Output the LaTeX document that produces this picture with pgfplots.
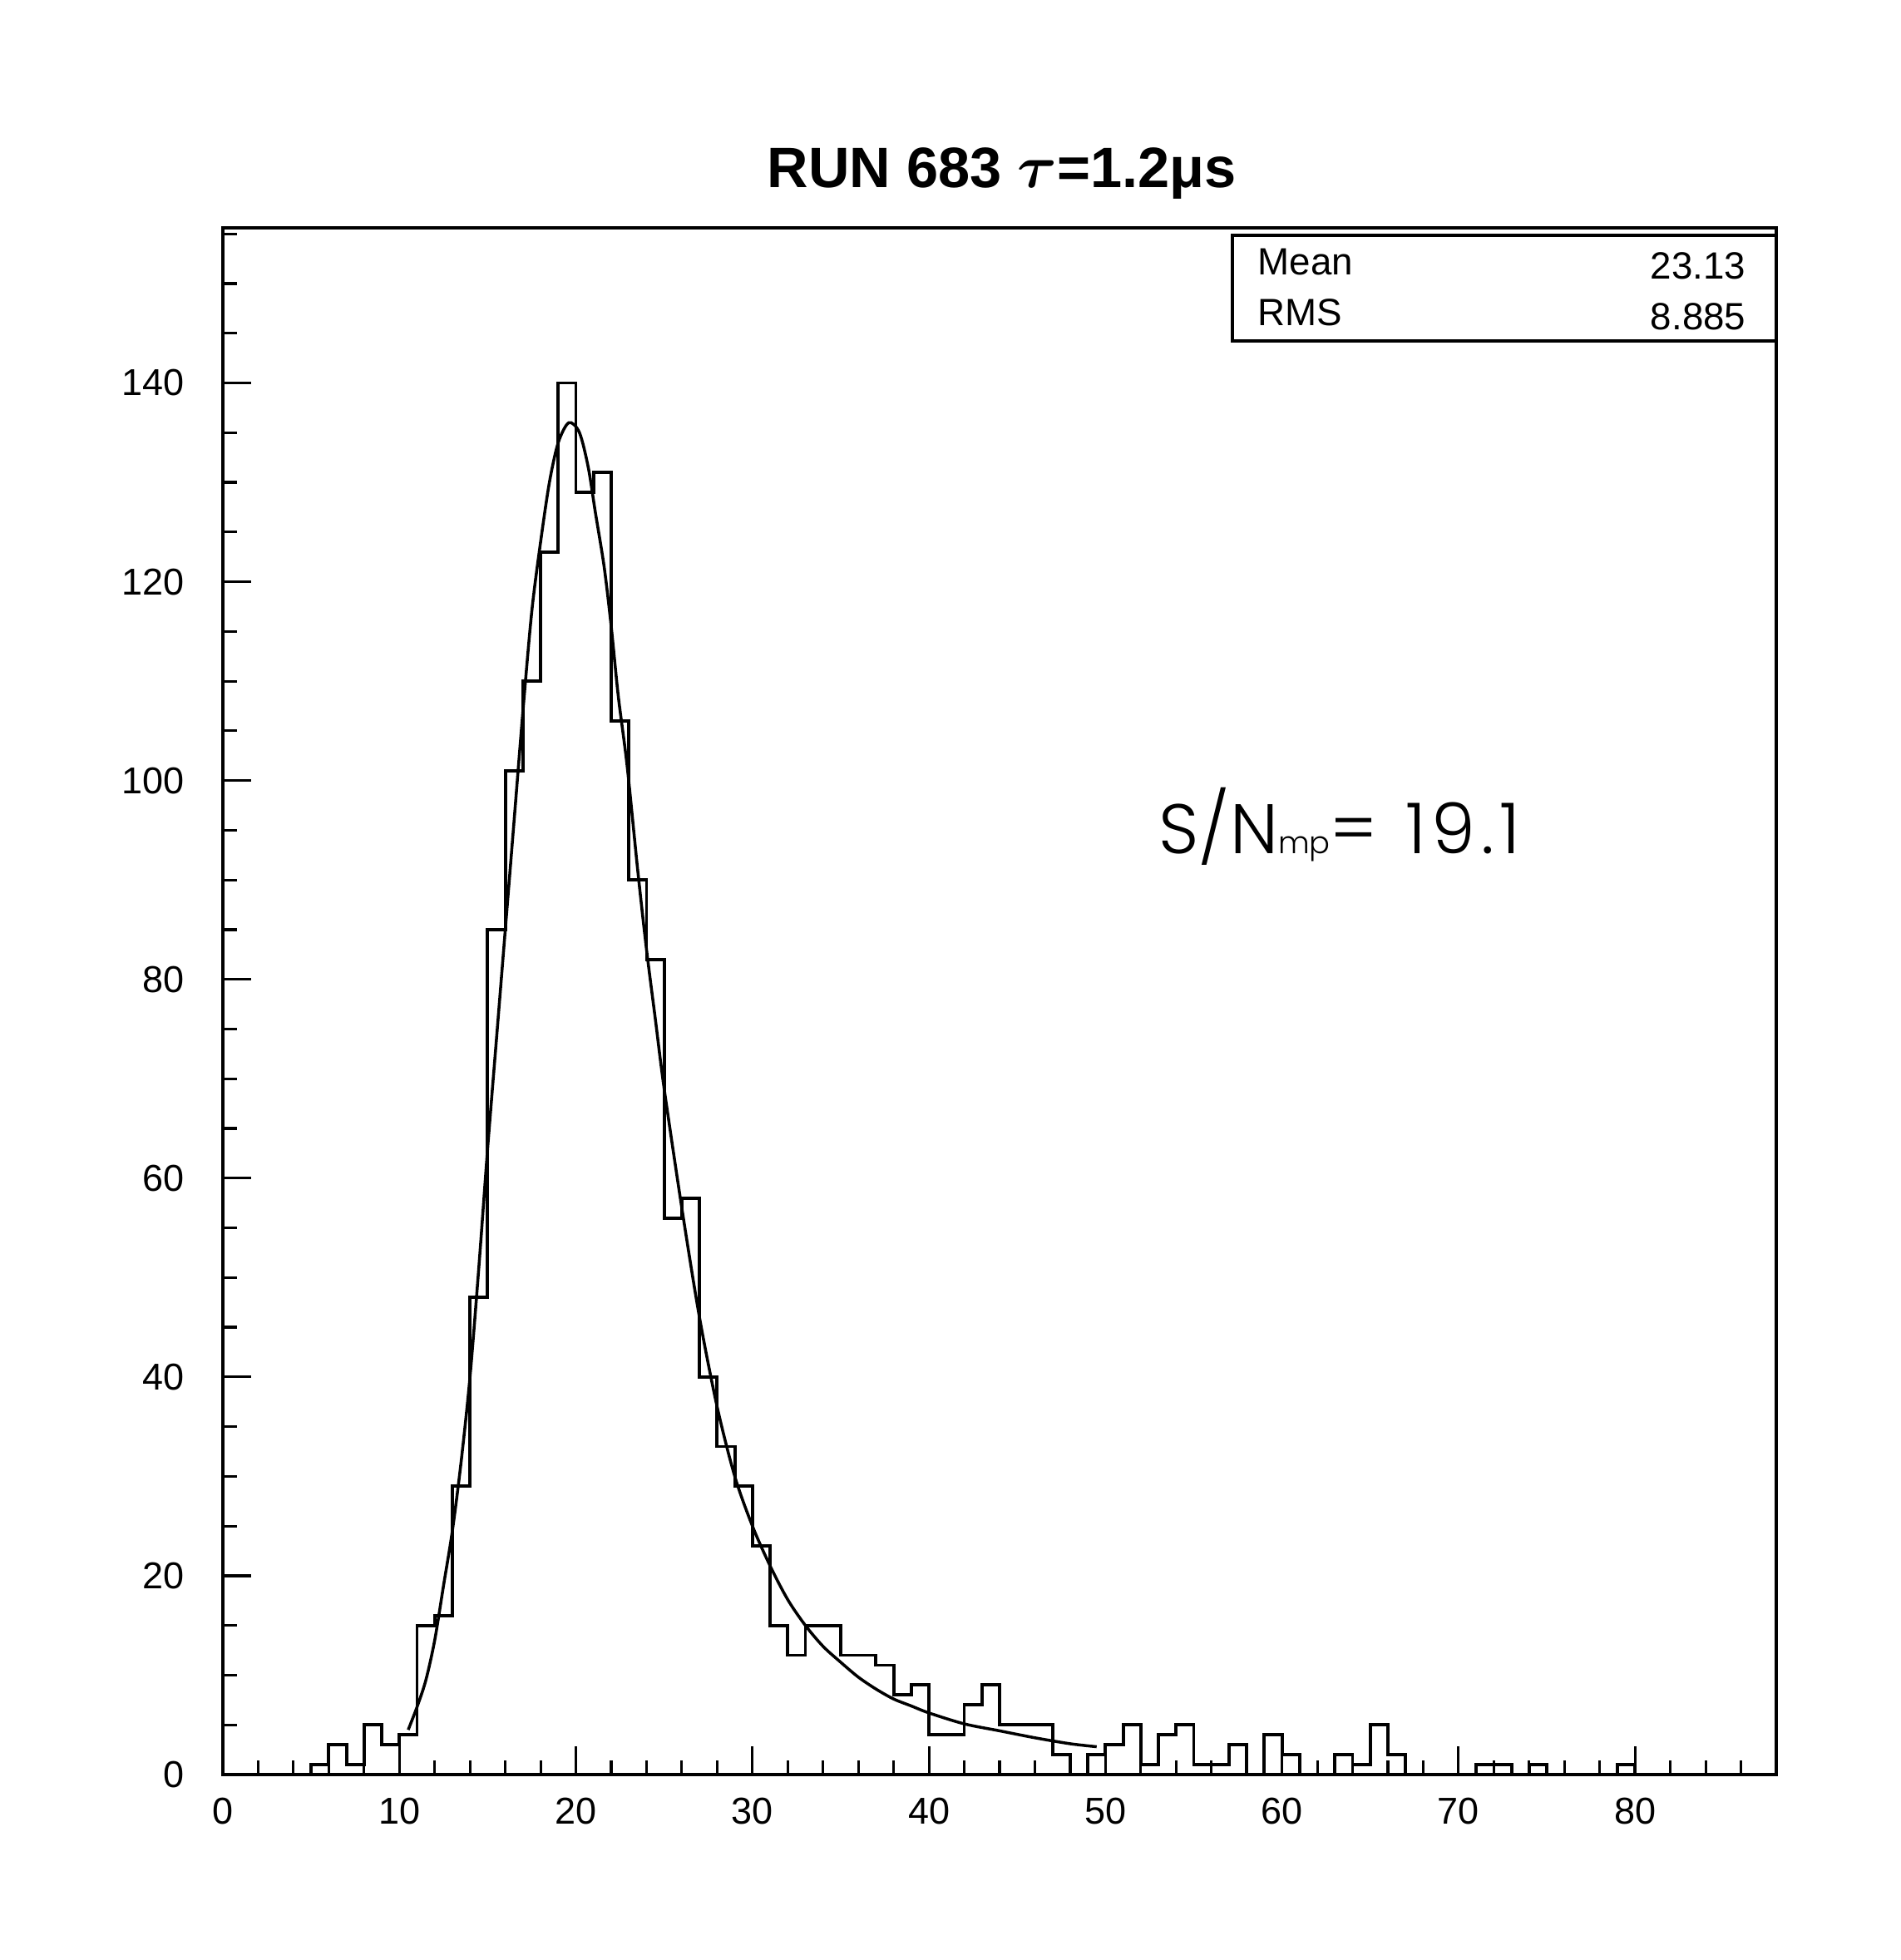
\documentclass[border=0pt]{standalone}
\usepackage{amsmath}
\usepackage{bm}
\usepackage{fontspec}
\setmainfont{Liberation Sans}
\newfontfamily\snfont{Poppins Light}
\newfontfamily\snnum[LetterSpace=8]{Poppins Light}
\usepackage{pgfplots}
\pgfplotsset{compat=1.18}
\newcommand{\titletext}{RUN 683 $\bm{\tau}$=1.2μs}
\begin{document}
\begin{tikzpicture}
\path[use as bounding box] (0,0) rectangle (22.86,23.57);
\begin{axis}[
  at={(2.68cm,2.23cm)}, anchor=south west,
  scale only axis, width=18.68cm, height=18.60cm,
  xmin=0, xmax=88, ymin=0, ymax=155.6,
  axis line style={line width=1.1pt},
  xtick={0,10,...,80}, ytick={0,20,...,140},
  minor xtick={2,4,...,88}, minor ytick={5,10,...,155},
  tick align=inside, xtick pos=left, ytick pos=left,
  major tick length=0.34cm, minor tick length=0.17cm,
  every tick/.style={black, line width=0.9pt},
  tick label style={font=\fontsize{12.8}{15}\selectfont},
  /pgf/number format/assume math mode=true,
  xticklabel style={inner sep=0pt, anchor=north, yshift=-0.27cm},
  yticklabel style={inner sep=0pt, anchor=east, xshift=-0.46cm},
]
\addplot[const plot mark left, black, line width=1.1pt] coordinates {
(0,0)(1,0)(2,0)(3,0)(4,0)(5,1)(6,3)(7,1)(8,5)(9,3)
(10,4)(11,15)(12,16)(13,29)(14,48)(15,85)(16,101)(17,110)(18,123)(19,140)
(20,129)(21,131)(22,106)(23,90)(24,82)(25,56)(26,58)(27,40)(28,33)(29,29)
(30,23)(31,15)(32,12)(33,15)(34,15)(35,12)(36,12)(37,11)(38,8)(39,9)
(40,4)(41,4)(42,7)(43,9)(44,5)(45,5)(46,5)(47,2)(48,0)(49,2)
(50,3)(51,5)(52,1)(53,4)(54,5)(55,1)(56,1)(57,3)(58,0)(59,4)
(60,2)(61,0)(62,0)(63,2)(64,1)(65,5)(66,2)(67,0)(68,0)(69,0)
(70,0)(71,1)(72,1)(73,0)(74,1)(75,0)(76,0)(77,0)(78,0)(79,1)
(80,0)(81,0)(82,0)(83,0)(84,0)(85,0)(86,0)(87,0)(88,0)
};
\addplot[smooth, tension=0.5, black, line width=1pt] coordinates {
(10.5,4.5)(11,6.8)(11.5,9.5)(12,13.5)(12.5,19)(13,24.5)(13.5,31.5)(14,40)
(14.5,51)(15,63)(15.5,74)(16,85)(16.5,96)(17,107)(17.5,117)(18,124)
(18.5,130)(19,134)(19.6,136)(20.2,135)(20.7,131.5)(21.1,127)(21.6,121.5)
(22,115.5)(22.4,108.5)(22.9,101.5)(23.5,91)(24,83)(24.5,76)(25,69)
(26,57)(27,46)(28,37)(29,30)(30,25)(31,21)(32,17.6)(33,15)(34,12.9)
(35,11.3)(36,9.8)(37,8.6)(38,7.6)(39,6.9)(40,6.2)(42,5.1)(44,4.4)
(46,3.7)(48,3.1)(49.5,2.8)
};
\end{axis}
\node[anchor=base, inner sep=0pt, font={\fontsize{19.5}{22}\selectfont\bfseries}] at (12.05,21.31) {\titletext};
\draw[line width=1pt, fill=white] (14.82,19.47) rectangle (21.36,20.74);
\node[anchor=base west, inner sep=0pt, font={\fontsize{13}{15}\selectfont}] at (15.12,20.26) {Mean};
\node[anchor=base east, inner sep=0pt, font={\fontsize{13}{15}\selectfont}] at (21.0,20.21) {23.13};
\node[anchor=base west, inner sep=0pt, font={\fontsize{13}{15}\selectfont}] at (15.12,19.65) {RMS};
\node[anchor=base east, inner sep=0pt, font={\fontsize{13}{15}\selectfont}] at (21.0,19.60) {8.885};
\node[anchor=base west, inner sep=0pt, font={\fontsize{24}{28}\snfont}] at (13.93,13.30) {S/N{\fontsize{10.5}{12}\selectfont mp}=\hspace{0.4em}{\snnum 19.1}};
\end{tikzpicture}
\end{document}
